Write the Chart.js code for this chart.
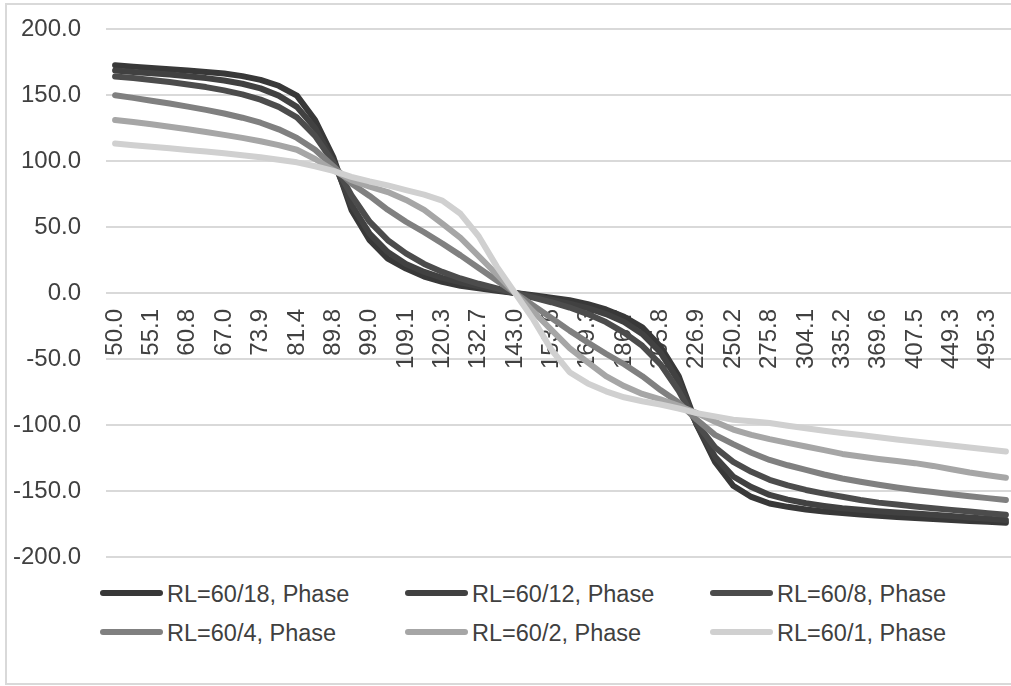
<!DOCTYPE html>
<html><head><meta charset="utf-8">
<script src="https://cdn.jsdelivr.net/npm/chart.js@4/dist/chart.umd.min.js"></script>
<style>
html,body{margin:0;padding:0;background:#fff;overflow:hidden;width:1011px;height:686px}
#frame{position:absolute;left:5px;top:3px;width:1040px;height:682px;border:2px solid #d9d9d9;box-sizing:border-box}
#c{position:absolute;left:0;top:0}
.leg{position:absolute;font-family:"Liberation Sans",Arial,sans-serif;font-size:23.5px;color:#404040;white-space:nowrap;line-height:28px;height:28px}
.leg .sw{position:absolute;left:0;top:10px;width:63px;height:6px;border-radius:3px}
.leg .tx{position:absolute;left:67px;top:0}
</style></head><body>
<div id="frame"></div>
<canvas id="c" width="1030" height="575"></canvas>
<div id="legend"></div>
<script>
const categories = ['50.0','52.5','55.1','57.9','60.8','63.8','67.0','70.4','73.9','77.6','81.4','85.5','89.8','94.3','99.0','103.9','109.1','114.6','120.3','126.3','132.7','139.3','143.0','146.3','153.6','161.3','169.3','177.8','186.7','196.0','205.8','216.1','226.9','238.2','250.2','262.7','275.8','289.6','304.1','319.3','335.2','352.0','369.6','388.1','407.5','427.8','449.3','471.7','495.3','520.0'];

const seriesNames = ['RL=60/18, Phase','RL=60/12, Phase','RL=60/8, Phase','RL=60/4, Phase','RL=60/2, Phase','RL=60/1, Phase'];

const rl18 = [172.5,171.5,170.5,169.5,168.5,167.5,166.3,164.3,161.5,157.0,149.5,131.0,103.0,63.0,40.0,26.0,18.5,12.5,8.5,5.5,3.5,1.7,0.0,
  -1.7,-3.5,-5.5,-8.5,-12.5,-18.0,-26.0,-40.5,-63.0,-100.0,-128.0,-146.0,-154.5,-159.5,-162.0,-164.0,-165.5,-166.7,-167.8,-168.8,-169.7,-170.5,-171.3,-172.0,-172.7,-173.3,-174.0];
const rl12 = [168.5,167.5,166.5,165.5,164.2,162.8,161.0,158.5,155.0,149.5,141.0,125.0,100.0,67.0,45.0,31.0,22.0,16.0,11.5,8.0,5.0,2.5,0.0,
  -2.5,-5.0,-8.0,-11.5,-16.0,-22.0,-31.0,-45.0,-67.0,-100.0,-124.0,-139.0,-147.0,-153.0,-156.5,-159.3,-161.3,-163.0,-164.2,-165.3,-166.2,-167.0,-168.0,-169.0,-170.0,-171.0,-172.0];
const rl8 = [164.0,162.8,161.3,159.8,158.0,156.0,153.5,150.5,146.5,141.0,133.0,119.0,99.0,74.0,54.0,40.0,30.0,22.0,16.0,11.0,7.0,3.5,0.0,
  -3.5,-7.0,-11.0,-16.0,-22.0,-30.0,-40.0,-54.0,-74.0,-99.0,-117.0,-128.0,-135.5,-141.5,-145.8,-149.2,-152.0,-154.3,-156.8,-158.8,-160.3,-161.8,-163.0,-164.3,-165.6,-166.9,-168.0];
const rl4 = [149.8,147.8,145.7,143.5,141.2,138.7,136.0,132.8,129.0,124.0,117.5,108.5,96.0,83.0,73.5,63.0,54.0,46.0,37.5,28.5,19.0,9.5,0.0,
  -9.5,-19.0,-28.5,-37.5,-46.0,-54.0,-63.0,-73.5,-83.0,-96.0,-107.5,-114.5,-121.0,-126.5,-130.5,-134.0,-137.5,-140.5,-143.0,-145.3,-147.3,-149.2,-150.8,-152.4,-153.9,-155.4,-156.8];
const rl2 = [131.0,129.5,127.8,126.0,124.0,122.0,119.8,117.5,115.0,112.0,108.5,101.5,93.0,85.5,80.5,76.5,70.5,63.0,52.5,41.7,28.0,14.0,0.0,
  -14.0,-28.0,-41.7,-52.5,-63.0,-70.5,-76.5,-80.5,-85.5,-91.0,-97.5,-103.5,-107.5,-110.7,-113.5,-116.3,-119.0,-121.9,-123.8,-125.7,-127.3,-128.9,-131.0,-133.5,-136.0,-138.0,-140.0];
const rl1 = [113.2,112.0,110.8,109.6,108.4,107.2,105.8,104.4,102.8,101.0,99.0,96.0,92.5,88.0,84.5,81.5,78.0,74.5,70.0,60.0,43.0,20.0,0.0,
  -20.0,-43.0,-60.0,-68.5,-74.5,-79.0,-82.0,-84.5,-87.5,-91.0,-93.5,-96.0,-97.2,-98.5,-100.5,-102.5,-104.3,-106.0,-107.6,-109.3,-111.0,-112.5,-114.0,-115.5,-117.0,-118.5,-120.0];

const yTicks = [-200,-150,-100,-50,0,50,100,150,200];

const seriesValues = [rl18, rl12, rl8, rl4, rl2, rl1];
const seriesColors = ['#383838','#414141','#4c4c4c','#808080','#a6a6a6','#d0d0d0'];
const FONT = '"Liberation Sans", Arial, sans-serif';
const TEXT = '#404040';

const datasets = seriesNames.map((name, k) => ({
  label: name,
  data: seriesValues[k],
  borderColor: seriesColors[k],
  backgroundColor: seriesColors[k],
  borderWidth: 6,
  borderCapStyle: 'round',
  borderJoinStyle: 'round',
  pointRadius: 0,
  tension: 0,
  fill: false,
  order: seriesNames.length - k
}));

new Chart(document.getElementById('c'), {
  type: 'line',
  data: { labels: categories, datasets },
  options: {
    responsive: false,
    animation: false,
    events: [],
    layout: { padding: { left: 10, top: 29, right: 15, bottom: 18 } },
    plugins: { legend: { display: false }, tooltip: { enabled: false } },
    scales: {
      x: {
        type: 'category',
        position: { y: 0 },
        offset: true,
        grid: { display: false, drawTicks: false },
        border: { display: false },
        ticks: {
          autoSkip: false,
          minRotation: 90,
          maxRotation: 90,
          padding: 16,
          color: TEXT,
          font: { family: FONT, size: 24 },
          callback: function(v, i) { return i % 2 === 0 ? categories[i] : ''; }
        },
        afterFit: function(s) { s.paddingLeft = 0; s.paddingRight = 0; }
      },
      y: {
        min: -200, max: 200,
        afterBuildTicks: function(s) { s.ticks = yTicks.map(v => ({ value: v })); },
        grid: { color: '#d9d9d9', lineWidth: 2, drawTicks: false },
        border: { display: false },
        ticks: {
          padding: 25,
          color: TEXT,
          font: { family: FONT, size: 24 },
          callback: function(v) { return Number(v).toFixed(1); }
        },
        afterFit: function(s) { s.width = 96; s.paddingTop = 0; s.paddingBottom = 0; }
      }
    }
  }
});

// legend (HTML text) in Excel-like grid: 3 columns x 2 rows
const legCols = [100, 405, 710];
const legRows = [580, 618.5];
const legend = document.getElementById('legend');
seriesNames.forEach((name, k) => {
  const item = document.createElement('div');
  item.className = 'leg';
  item.style.left = legCols[k % 3] + 'px';
  item.style.top = legRows[Math.floor(k / 3)] + 'px';
  const sw = document.createElement('div');
  sw.className = 'sw';
  sw.style.background = seriesColors[k];
  const tx = document.createElement('span');
  tx.className = 'tx';
  tx.textContent = name;
  item.appendChild(sw);
  item.appendChild(tx);
  legend.appendChild(item);
});
</script>
</body></html>
